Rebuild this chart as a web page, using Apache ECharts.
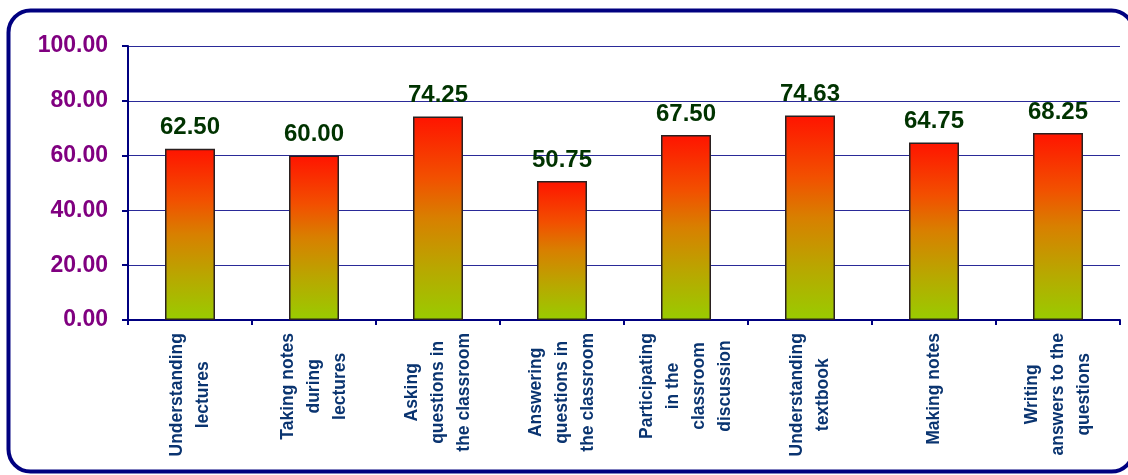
<!DOCTYPE html>
<html>
<head>
<meta charset="utf-8">
<script src="https://cdn.jsdelivr.net/npm/echarts@6/dist/echarts.min.js"></script>
<style>
html,body{margin:0;padding:0;background:#fff;}
#chart{width:1128px;height:475px;}
</style>
</head>
<body>
<div id="chart"></div>
<script>
const categories = [
  "Understanding\nlectures",
  "Taking notes\nduring\nlectures",
  "Asking\nquestions in\nthe classroom",
  "Answering\nquestions in\nthe classroom",
  "Participating\nin the\nclassroom\ndiscussion",
  "Understanding\ntextbook",
  "Making notes",
  "Writing\nanswers to the\nquestions"
];
const values = [62.50, 60.00, 74.25, 50.75, 67.50, 74.63, 64.75, 68.25];
const yTicks = { min: 0, max: 100, interval: 20 };

const chart = echarts.init(document.getElementById('chart'), null, { renderer: 'canvas' });
const FONT = '"Liberation Sans", Arial, sans-serif';

chart.setOption({
  backgroundColor: '#ffffff',
  animation: false,
  graphic: [{
    type: 'rect',
    shape: { x: 8.5, y: 10.5, width: 1125, height: 461, r: 22 },
    style: { fill: 'none', stroke: '#000080', lineWidth: 4 },
    z: 100
  }],
  grid: { left: 128, right: 8, top: 46, bottom: 155, containLabel: false },
  xAxis: {
    type: 'category',
    data: categories,
    axisLine: { show: true, lineStyle: { color: '#000080', width: 2 } },
    axisTick: { show: true, alignWithLabel: false, length: 5, lineStyle: { color: '#000080', width: 2 } },
    axisLabel: {
      interval: 0,
      rotate: 90,
      margin: 13,
      color: '#0a3470',
      fontFamily: FONT,
      fontWeight: 'bold',
      fontSize: 17.5,
      lineHeight: 26,
      formatter: function (v) {
        return v.split('\n').map(function (s) { return '{c|' + s + '}'; }).join('\n');
      },
      rich: {
        c: { align: 'center', color: '#0a3470', fontFamily: FONT, fontWeight: 'bold', fontSize: 17.5, lineHeight: 26 }
      }
    }
  },
  yAxis: {
    type: 'value',
    min: yTicks.min,
    max: yTicks.max,
    interval: yTicks.interval,
    axisLine: { show: true, lineStyle: { color: '#000080', width: 2 } },
    axisTick: { show: true, length: 6, lineStyle: { color: '#000080', width: 2 } },
    splitLine: { show: true, lineStyle: { color: '#2a2a98', width: 1 } },
    axisLabel: {
      margin: 20,
      color: '#800080',
      fontFamily: FONT,
      fontWeight: 'bold',
      fontSize: 23,
      formatter: function (v) { return v.toFixed(2); }
    }
  },
  series: [{
    type: 'bar',
    data: values,
    barWidth: 50,
    itemStyle: {
      borderColor: '#2a2020',
      borderWidth: 1.5,
      color: new echarts.graphic.LinearGradient(0, 0, 0, 1, [
        { offset: 0, color: '#ff1400' },
        { offset: 0.3, color: '#f25000' },
        { offset: 0.5, color: '#d88000' },
        { offset: 0.75, color: '#b8a800' },
        { offset: 1, color: '#99cc00' }
      ])
    },
    label: {
      show: true,
      position: 'top',
      distance: 9,
      color: '#003300',
      fontFamily: FONT,
      fontWeight: 'bold',
      fontSize: 24,
      formatter: function (p) { return p.value.toFixed(2); }
    }
  }]
});
</script>
</body>
</html>
